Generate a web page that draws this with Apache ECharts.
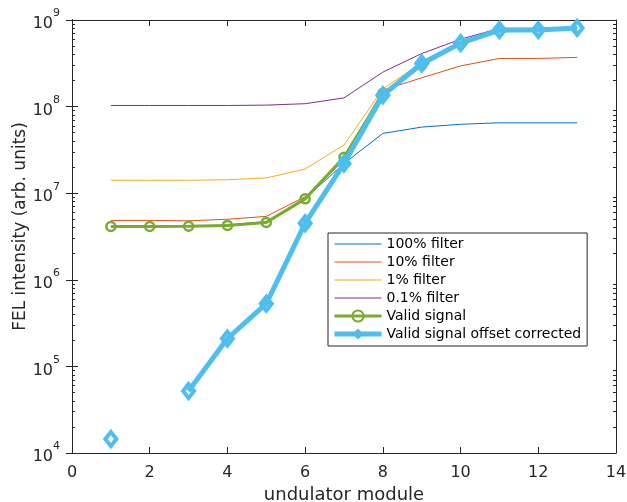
<!DOCTYPE html>
<html>
<head>
<meta charset="utf-8">
<script src="https://cdn.jsdelivr.net/npm/echarts@6/dist/echarts.min.js"></script>
<style>html,body{margin:0;padding:0;background:#fff}#c{width:627px;height:502px}</style>
</head>
<body>
<div id="c"></div>
<script>
var modules = [1,2,3,4,5,6,7,8,9,10,11,12,13];
var filter100 = [4.1e6,4.1e6,4.15e6,4.3e6,4.7e6,8.7e6,2.2e7,4.9e7,5.8e7,6.25e7,6.5e7,6.5e7,6.5e7];
var filter10  = [4.85e6,4.85e6,4.8e6,5.0e6,5.4e6,9.1e6,2.4e7,1.55e8,2.15e8,2.95e8,3.6e8,3.6e8,3.7e8];
var filter1   = [1.41e7,1.41e7,1.41e7,1.43e7,1.5e7,1.9e7,3.6e7,1.6e8,3.2e8,5.7e8,8.0e8,8.0e8,8.2e8];
var filter01  = [1.03e8,1.03e8,1.03e8,1.03e8,1.04e8,1.08e8,1.26e8,2.5e8,4.1e8,6.0e8,8.0e8,8.0e8,8.2e8];
var validSig  = [4.13e6,4.13e6,4.15e6,4.25e6,4.6e6,8.6e6,2.6e7,1.42e8,3.0e8,5.4e8,7.5e8,7.6e8,8.2e8];
var validCorr = [1.45e4,null,5.2e4,2.1e5,5.3e5,4.5e6,2.2e7,1.35e8,3.15e8,5.4e8,7.65e8,7.65e8,8.1e8];
var seriesNames = ['100% filter','10% filter','1% filter','0.1% filter','Valid signal','Valid signal offset corrected'];
var xTicks = [0,2,4,6,8,10,12,14];
var yMajor = [1e4,1e5,1e6,1e7,1e8,1e9];

function pairs(arr){ return modules.map(function(m,i){ return [m, arr[i]]; }); }
var yMinor = [];
for (var e=4; e<9; e++){ for (var k=2;k<=9;k++){ yMinor.push(k*Math.pow(10,e)); } }

var AX = '#262626';
var FONT = 'DejaVu Sans';
var COLORS = ['#0072BD','#D95319','#EDB120','#7E2F8E','#77AC30','#4DBEEE'];
var CLEAR = 'rgba(255,255,255,0)';

function logAxis(pos, ticks, len){
  return {
    type:'log', min:1e4, max:1e9, logBase:10, position:pos,
    axisLine:{show:true, lineStyle:{color:AX, width:1}},
    axisTick:{show:true, inside:true, length:len, customValues:ticks, lineStyle:{color:AX}},
    axisLabel:{show:false},
    splitLine:{show:false}, minorTick:{show:false}
  };
}
var yAxes = [
  {
    type:'log', min:1e4, max:1e9, logBase:10, position:'left',
    name:'FEL intensity (arb. units)', nameLocation:'middle', nameGap:43, nameMoveOverlap:false,
    nameTextStyle:{fontFamily:FONT, fontSize:17, color:AX, padding:[0,0,0,20]},
    axisLine:{show:true, lineStyle:{color:AX, width:1}},
    axisTick:{show:true, inside:true, length:6, customValues:yMajor, lineStyle:{color:AX}},
    axisLabel:{show:true, margin:12, customValues:yMajor,
      formatter:function(v){ return '{b|10}{s|' + Math.round(Math.log10(v)) + '}'; },
      rich:{
        b:{fontFamily:FONT, fontSize:16, color:AX, lineHeight:24, verticalAlign:'bottom'},
        s:{fontFamily:FONT, fontSize:11, color:AX, lineHeight:12, verticalAlign:'top'}
      }},
    splitLine:{show:false}
  },
  logAxis('right', yMajor, 6),
  logAxis('left', yMinor, 3),
  logAxis('right', yMinor, 3)
];
var xAxes = [
  {type:'value', min:0, max:14, interval:2, position:'bottom',
   name:'undulator module', nameLocation:'middle', nameGap:28,
   nameTextStyle:{fontFamily:FONT, fontSize:18, color:AX},
   axisLine:{show:true, onZero:false, lineStyle:{color:AX}},
   axisTick:{show:true, inside:true, length:6, customValues:xTicks, lineStyle:{color:AX}},
   axisLabel:{show:true, margin:12, customValues:xTicks, fontFamily:FONT, fontSize:16, color:AX},
   splitLine:{show:false}},
  {type:'value', min:0, max:14, interval:2, position:'top',
   axisLine:{show:true, onZero:false, lineStyle:{color:AX}},
   axisTick:{show:true, inside:true, length:6, customValues:xTicks, lineStyle:{color:AX}},
   axisLabel:{show:false}, splitLine:{show:false}}
];

function thin(i, arr){
  return {name:seriesNames[i], type:'line', data:pairs(arr), symbol:'none', showSymbol:false,
    lineStyle:{color:COLORS[i], width:1}, itemStyle:{color:COLORS[i]}, animation:false, z:2};
}
var series = [
  thin(0, filter100),
  thin(1, filter10),
  thin(2, filter1),
  thin(3, filter01),
  {name:seriesNames[4], type:'line', data:pairs(validSig), symbol:'circle', symbolSize:9,
   lineStyle:{color:COLORS[4], width:3},
   itemStyle:{color:CLEAR, borderColor:COLORS[4], borderWidth:2.5},
   animation:false, z:3},
  {name:seriesNames[5], type:'line', data:pairs(validCorr), symbol:'diamond', symbolSize:[11,14],
   connectNulls:false,
   lineStyle:{color:COLORS[5], width:5},
   itemStyle:{color:CLEAR, borderColor:COLORS[5], borderWidth:4},
   animation:false, z:4}
];

var legendData = seriesNames.map(function(n, i){
  if (i < 4) return {name:n, lineStyle:{color:COLORS[i], width:1}, itemStyle:{color:CLEAR, borderWidth:0, borderColor:CLEAR}};
  if (i === 4) return {name:n, lineStyle:{color:COLORS[i], width:3}, itemStyle:{color:CLEAR, borderColor:COLORS[i], borderWidth:2}};
  return {name:n, lineStyle:{color:COLORS[i], width:5}, itemStyle:{color:COLORS[i], borderColor:COLORS[i], borderWidth:0}};
});

var chart = echarts.init(document.getElementById('c'), null, {renderer:'canvas'});
chart.setOption({
  backgroundColor:'#fff',
  animation:false,
  grid:{left:72, right:11, top:20, bottom:49, containLabel:false, outerBoundsMode:'none'},
  xAxis:xAxes,
  yAxis:yAxes,
  legend:{
    orient:'vertical', left:328, top:233, padding:[4,6,5,4], itemGap:4,
    itemWidth:47, itemHeight:14,
    backgroundColor:'#fff', borderColor:AX, borderWidth:1,
    textStyle:{fontFamily:FONT, fontSize:14, color:'#000'},
    data:legendData
  },
  series:series
});
</script>
</body>
</html>
